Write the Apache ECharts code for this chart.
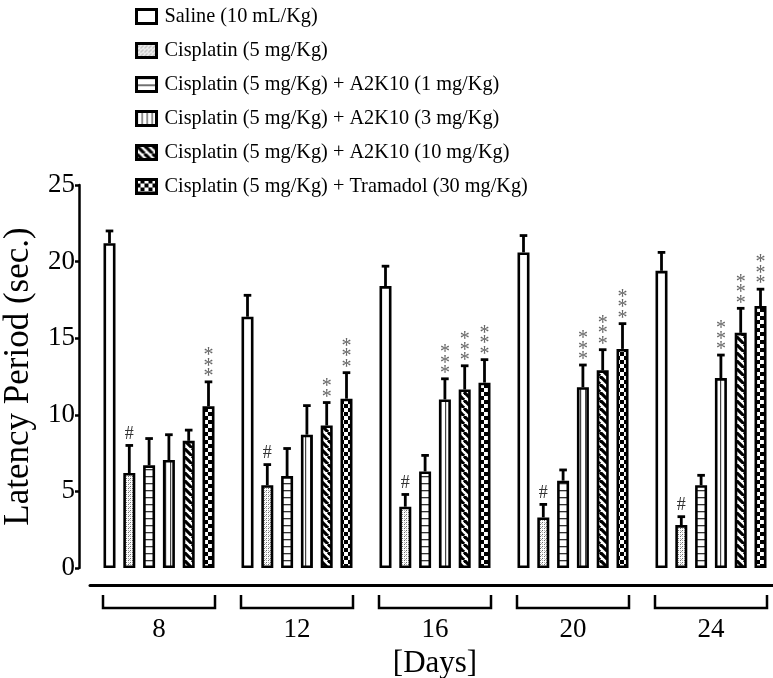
<!DOCTYPE html>
<html><head><meta charset="utf-8">
<script src="https://cdn.jsdelivr.net/npm/echarts@6/dist/echarts.min.js"></script>
<style>html,body{margin:0;padding:0;background:#fff}#c{width:773px;height:678px}</style>
</head><body><div id="c"></div>
<script>
// ---- data ----
const days = ['8', '12', '16', '20', '24'];
const groupNames = [
  'Saline (10 mL/Kg)',
  'Cisplatin (5 mg/Kg)',
  'Cisplatin (5 mg/Kg) + A2K10 (1 mg/Kg)',
  'Cisplatin (5 mg/Kg) + A2K10 (3 mg/Kg)',
  'Cisplatin (5 mg/Kg) + A2K10 (10 mg/Kg)',
  'Cisplatin (5 mg/Kg) + Tramadol (30 mg/Kg)'
];
const saline = [21.2, 16.4, 18.4, 20.6, 19.4];
const salineSem = [0.8, 1.4, 1.3, 1.1, 1.2];
const cisplatin = [6.2, 5.4, 4.0, 3.3, 2.8];
const cisplatinSem = [1.8, 1.35, 0.8, 0.85, 0.55];
const a2k1 = [6.7, 6.0, 6.3, 5.7, 5.4];
const a2k1Sem = [1.75, 1.8, 1.05, 0.7, 0.65];
const a2k3 = [7.05, 8.7, 11.0, 11.8, 12.4];
const a2k3Sem = [1.65, 1.9, 1.35, 1.45, 1.5];
const a2k10 = [8.3, 9.3, 11.65, 12.9, 15.35];
const a2k10Sem = [0.7, 1.5, 1.55, 1.35, 1.6];
const tramadol = [10.55, 11.05, 12.1, 14.3, 17.1];
const tramadolSem = [1.6, 1.7, 1.5, 1.65, 1.1];
const salineSig = ['', '', '', '', ''];
const cisplatinSig = ['#', '#', '#', '#', '#'];
const a2k1Sig = ['', '', '', '', ''];
const a2k3Sig = ['', '', '***', '***', '***'];
const a2k10Sig = ['', '**', '***', '***', '***'];
const tramadolSig = ['***', '***', '***', '***', '***'];
const yTicks = [0, 5, 10, 15, 20, 25];
const yTitle = 'Latency Period (sec.)';
const xTitle = '[Days]';

// ---- styling ----
const FONT = 'Liberation Serif';
const BAR_W = 12, BAR_GAP = 0.65, PITCH = BAR_W * (1 + BAR_GAP);

function pat(w, h, draw) {
  const c = document.createElement('canvas');
  c.width = w; c.height = h;
  const g = c.getContext('2d');
  g.fillStyle = '#fff'; g.fillRect(0, 0, w, h);
  draw(g);
  return { image: c, repeat: 'repeat' };
}
const fills = [
  '#ffffff',
  pat(4, 4, g => { g.fillStyle = '#6a6a6a'; g.fillRect(0, 0, 1, 1); g.fillRect(2, 2, 1, 1); g.fillStyle = '#b0b0b0'; g.fillRect(2, 0, 1, 1); g.fillRect(0, 2, 1, 1); g.fillRect(1, 3, 1, 1); }),
  pat(4, 7, g => { g.fillStyle = '#333'; g.fillRect(0, 0, 4, 1.3); }),
  pat(5, 4, g => { g.fillStyle = '#444'; g.fillRect(0, 0, 1.2, 4); }),
  pat(8, 8, g => {
    g.strokeStyle = '#000'; g.lineWidth = 3.2;
    for (let k = -8; k <= 8; k += 8) { g.beginPath(); g.moveTo(k, 0); g.lineTo(k + 8, 8); g.stroke(); }
  }),
  pat(8, 8, g => { g.fillStyle = '#000'; g.fillRect(0, 0, 8, 8); g.fillStyle = '#fff'; g.fillRect(0, 0, 4, 4); g.fillRect(4, 4, 4, 4); })
];

const values = [saline, cisplatin, a2k1, a2k3, a2k10, tramadol];
const sems = [salineSem, cisplatinSem, a2k1Sem, a2k3Sem, a2k10Sem, tramadolSem];
const sigs = [salineSig, cisplatinSig, a2k1Sig, a2k3Sig, a2k10Sig, tramadolSig];

const barSeries = groupNames.map((name, i) => ({
  name, type: 'bar', data: values[i], barWidth: BAR_W, barGap: (BAR_GAP * 100) + '%',
  itemStyle: { color: fills[i], borderColor: '#000', borderWidth: 2.6 },
  emphasis: { disabled: true }, z: 2
}));

const errData = [];
values.forEach((arr, s) => arr.forEach((v, c) => errData.push([c, s, v, sems[s][c]])));

const errSeries = {
  type: 'custom', data: errData, z: 3, silent: true, clip: false,
  renderItem(params, api) {
    const c = api.value(0), s = api.value(1), v = api.value(2), e = api.value(3);
    const b = api.coord([c, v]), t = api.coord([c, v + e]);
    const x = b[0] + (s - 2.5) * PITCH;
    const sig = sigs[s][c];
    const children = [
      { type: 'line', shape: { x1: x, y1: b[1], x2: x, y2: t[1] }, style: { stroke: '#000', lineWidth: 2.8 } },
      { type: 'line', shape: { x1: x - 3.8, y1: t[1], x2: x + 3.8, y2: t[1] }, style: { stroke: '#000', lineWidth: 2.8 } }
    ];
    if (sig === '#') {
      children.push({ type: 'text', style: { text: '#', x: x, y: t[1] - 2, align: 'center', verticalAlign: 'bottom', font: '18px ' + FONT, fill: '#333' } });
    } else if (sig) {
      const n = sig.length;
      for (let k = 0; k < n; k++) {
        children.push({ type: 'text', style: { text: '*', x: x, y: t[1] + 5 - k * 10.5, align: 'center', verticalAlign: 'bottom', font: '20px ' + FONT, fill: '#666' } });
      }
    }
    return { type: 'group', children };
  }
};

const bracketSeries = {
  type: 'custom', data: days.map((d, i) => [i, 0]), z: 3, silent: true, clip: false,
  renderItem(params, api) {
    const p = api.coord([api.value(0), api.value(1)]);
    const hw = 56;
    return { type: 'polyline', shape: { points: [[p[0] - hw, p[1] + 27], [p[0] - hw, p[1] + 40], [p[0] + hw, p[1] + 40], [p[0] + hw, p[1] + 27]] },
      style: { stroke: '#000', lineWidth: 2.5, fill: null } };
  }
};

const chart = echarts.init(document.getElementById('c'), null, { renderer: 'canvas' });
chart.setOption({
  animation: false,
  backgroundColor: '#fff',
  textStyle: { fontFamily: FONT },
  legend: {
    data: groupNames, orient: 'vertical', left: 130, top: -1,
    itemWidth: 20, itemHeight: 14, itemGap: 9, icon: 'rect',
    selectedMode: false,
    itemStyle: { borderColor: '#000', borderWidth: 3 },
    textStyle: { fontFamily: FONT, fontSize: 20.3, color: '#000', lineHeight: 25, padding: [0, 0, 0, 3] }
  },
  grid: { left: 90, right: -7, top: 185, bottom: 110, containLabel: false, outerBoundsMode: 'none' },
  xAxis: {
    type: 'category', data: days, offset: 17,
    axisLine: { show: true, onZero: false, lineStyle: { color: '#000', width: 3 } },
    axisTick: { show: false },
    axisLabel: { fontFamily: FONT, fontSize: 27, color: '#000', margin: 31 },
    name: xTitle, nameLocation: 'middle', nameGap: 61,
    nameTextStyle: { fontFamily: FONT, fontSize: 31, color: '#000' }
  },
  yAxis: {
    type: 'value', min: yTicks[0], max: yTicks[yTicks.length - 1], interval: yTicks[1] - yTicks[0], offset: 11,
    splitLine: { show: false },
    axisLine: { show: true, lineStyle: { color: '#000', width: 2.5 } },
    axisTick: { show: true, length: 4, lineStyle: { color: '#000', width: 2.5 } },
    axisLabel: { fontFamily: FONT, fontSize: 27, color: '#000', margin: 4 },
    name: yTitle, nameLocation: 'middle', nameGap: 43,
    nameTextStyle: { fontFamily: FONT, fontSize: 35, color: '#000' }
  },
  series: [...barSeries, errSeries, bracketSeries]
});
</script></body></html>
